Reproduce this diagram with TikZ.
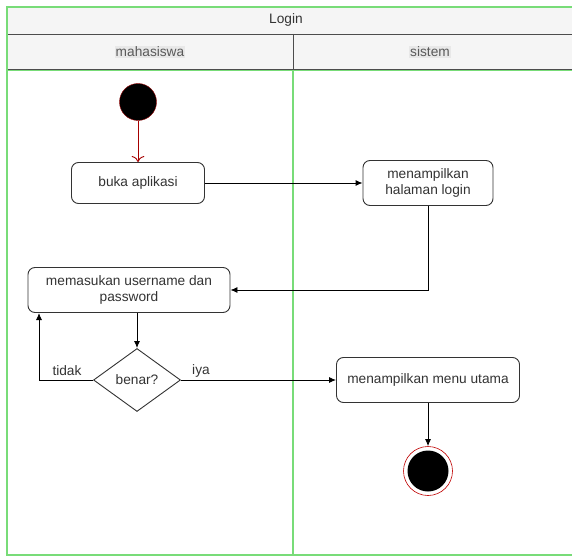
\documentclass[tikz,border=0pt]{standalone}
\usepackage{fontspec}
\setmainfont{Liberation Sans}
\usetikzlibrary{shapes.geometric,arrows.meta}
\definecolor{lanegreen}{RGB}{120,220,120}
\definecolor{teks}{RGB}{51,51,51}

\begin{document}
\begin{tikzpicture}[x=1pt,y=-1pt]
		\tikzstyle{every node}+=[font=\fontsize{13.7}{16}\selectfont, text=teks]
		\tikzstyle{aksi}=[draw=black!80, rounded corners=7pt, fill=white, align=center, line width=0.9pt]
		\tikzstyle{panah}=[-{Latex[length=7pt,width=6pt]}, line width=0.9pt, black]
		\useasboundingbox (0,0) rectangle (572,556);
		% swimlane
		\fill [black!4] (7,7) rectangle (572,69);
		\draw [black!70] (7,34) -- (572,34);
		\draw [black!70] (7,69) -- (572,69);
		\draw [black!70] (293,34) -- (293,69);
		\draw [lanegreen, line width=1.1pt] (572,7) -- (7,7) -- (7,555) -- (572,555);
		\draw [lanegreen, line width=1.1pt] (293,70) -- (293,555);
		\draw [lanegreen, line width=0.7pt] (7,70) -- (572,70);
		\node (judul) at (286,20) {Login};
		\node [fill=black!9, inner sep=1pt, text=black!65] (mhs) at (150,52) {mahasiswa};
		\node [fill=black!9, inner sep=1pt, text=black!65] (sis) at (430,52) {sistem};
		% aktivitas
		\node [circle, fill=black, draw=red!60!black, minimum size=37, inner sep=0pt] (mulai) at (138,102) {};
		\node [aksi, minimum width=133, minimum height=41] (buka) at (138,183) {buka aplikasi};
		\node [aksi, minimum width=130, minimum height=45] (halaman) at (428,183) {menampilkan\\halaman login};
		\node [aksi, minimum width=202, minimum height=45] (masuk) at (129,290) {memasukan username dan\\password};
		\node [diamond, draw=black!80, line width=0.9pt, fill=white, aspect=1.38, minimum width=87, minimum height=63, inner sep=0pt] (benar) at (137,380) {benar?};
		\node [aksi, minimum width=183, minimum height=45] (menu) at (428,380) {menampilkan menu utama};
		\node [circle, draw=red!75!black, fill=white, line width=0.6pt, minimum size=49, inner sep=0pt] (akhir) at (428,471) {};
		\node [circle, fill=black, minimum size=41, inner sep=0pt] (akhirdalam) at (akhir) {};
		\coordinate (balik) at (39,313);
		% alur
		\draw [-{To[length=6pt]}, red!65!black, line width=0.9pt] (mulai) -- (buka);
		\draw [panah] (buka) -- (halaman);
		\draw [panah] (halaman.south) |- (masuk.east);
		\draw [panah] (benar.north |- masuk.south) -- (benar);
		\draw [panah] (benar.west) -| (balik);
		\draw [panah] (benar.east) -- (menu.west);
		\draw [panah] (menu) -- (akhir);
		\node (tidak) at (67,371) {tidak};
		\node (iya) at (201,371) {iya};
	\end{tikzpicture}
\end{document}
